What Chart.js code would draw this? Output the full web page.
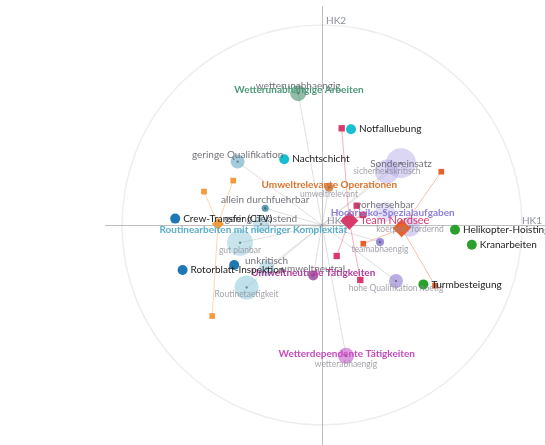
<!DOCTYPE html>
<html>
<head>
<meta charset="utf-8">
<script src="https://cdn.jsdelivr.net/npm/chart.js@4.4.0/dist/chart.umd.min.js"></script>
<style>
    html, body { margin: 0; padding: 0; background: #fff; }
    #wrap { width: 545px; height: 445px; }
</style>
</head>
<body>
<div id="wrap"><canvas id="chartBiplot"></canvas></div>
<script>
// Tätigkeiten (Zeilenpunkte)
const taetigkeiten = ['Notfalluebung', 'Nachtschicht', 'Crew-Transfer (CTV)', 'Rotorblatt-Inspektion',
    'Helikopter-Hoisting', 'Kranarbeiten', 'Turmbesteigung', ''];
const taetigkeitenX = [0.145, -0.189, -0.734, -0.697, 0.665, 0.749, 0.507, -0.439];
const taetigkeitenY = [0.479, 0.329, 0.032, -0.225, -0.024, -0.099, -0.297, -0.200];

// Merkmale (Spaltenpunkte) mit Beitrag
const merkmale = ['wetterunabhaengig', 'geringe Qualifikation', 'allein durchfuehrbar', 'gering belastend',
    'gut planbar', 'unkritisch', 'Routinetaetigkeit', 'umweltneutral', 'umweltrelevant', 'vorhersehbar',
    'Sondereinsatz', 'sicherheitskritisch', 'koerperl. fordernd', 'teamabhaengig',
    'hohe Qualifikation noetig', 'wetterabhaengig'];
const merkmaleX = [-0.119, -0.422, -0.284, -0.305, -0.410, -0.277, -0.377, -0.044, 0.035, 0.315,
    0.395, 0.324, 0.440, 0.290, 0.370, 0.120];
const merkmaleY = [0.659, 0.317, 0.084, 0.005, -0.089, -0.217, -0.312, -0.252, 0.189, 0.065,
    0.309, 0.267, -0.009, -0.085, -0.280, -0.654];
const merkmaleBeitrag = [8, 7, 3.5, 8, 13, 8, 12, 5, 4.5, 10, 15, 12, 10, 4, 7, 8];

// Cluster
const cluster = ['Wetterunabhängige Arbeiten', 'Umweltrelevante Operationen',
    'Routinearbeiten mit niedriger Komplexität', 'Hochrisiko-Spezialaufgaben',
    'Umweltneutrale Tätigkeiten', 'Wetterdependente Tätigkeiten'];
const clusterX = [-0.115, 0.0365, -0.3435, 0.3535, -0.0435, 0.124];
const clusterY = [0.675, 0.2035, -0.025, 0.0635, -0.2385, -0.6415];

// Teams (Schwerpunkte) und ihre Mitglieder
const teams = ['Team Nordsee', '', ''];
const teamsX = [0.1365, 0.3985, -0.52];
const teamsY = [0.0215, -0.0165, 0.005];
const mitgliederX = [
    [0.0985, 0.1735, 0.2035, 0.0735, 0.1915],
    [0.5965, 0.2065, 0.565],
    [-0.59, -0.444, -0.549]
];
const mitgliederY = [
    [0.4835, 0.0965, 0.05, -0.155, -0.275],
    [0.2665, -0.0935, -0.3035],
    [0.167, 0.222, -0.455]
];

const achsen = ['HK1', 'HK2', 'HK3'];

// Farben / Stile
const farbeTaetigkeit = ['#17becf', '#17becf', '#1f77b4', '#1f77b4', '#2ca02c', '#2ca02c', '#2ca02c', '#1f77b4'];
const farbeMerkmal = [
    'rgba(70,145,110,0.6)', 'rgba(90,160,190,0.55)', 'rgba(60,140,165,0.85)', 'rgba(130,195,215,0.45)',
    'rgba(130,195,215,0.45)', 'rgba(130,195,215,0.45)', 'rgba(130,195,215,0.5)', 'rgba(150,60,150,0.8)',
    'rgba(205,110,50,0.8)', 'rgba(175,165,230,0.35)', 'rgba(175,165,230,0.45)', 'rgba(175,165,230,0.45)',
    'rgba(175,165,230,0.5)', 'rgba(130,110,210,0.8)', 'rgba(140,120,210,0.6)', 'rgba(205,100,205,0.65)'
];
const merkmalGross = [true, true, true, true, false, true, false, true, false, true, true, false, false, false, false, false];
const merkmalDy = [-7, -7, -8, -5, 7, -8, 7, -7, 7, -7, 1, 0, 2, 7, 7, 8];
const farbeCluster = ['#4e9a78', '#d9742c', '#5aaec8', '#8c80d8', '#b0409e', '#c44cbc'];
const farbeTeam = ['#d93a6c', '#e8602c', '#f39a3c'];

const SCHRIFT = 'Lato, "Open Sans", sans-serif';

const datasets = [];

// Vektoren vom Ursprung zu den Merkmalen
merkmale.forEach((m, i) => {
    datasets.push({
        type: 'line',
        data: [{ x: 0, y: 0 }, { x: merkmaleX[i], y: merkmaleY[i] }],
        borderColor: 'rgba(150,150,150,0.3)',
        borderWidth: 1,
        pointRadius: 0,
        order: 20,
        clip: false
    });
});

// Verbindungen Team -> Mitglieder
teams.forEach((t, g) => {
    mitgliederX[g].forEach((mx, k) => {
        datasets.push({
            type: 'line',
            data: [{ x: teamsX[g], y: teamsY[g] }, { x: mx, y: mitgliederY[g][k] }],
            borderColor: farbeTeam[g] + '66',
            borderWidth: 1,
            pointRadius: 0,
            order: 19,
            clip: false
        });
    });
});

// Merkmal-Blasen
datasets.push({
    type: 'bubble',
    data: merkmale.map((m, i) => ({ x: merkmaleX[i], y: merkmaleY[i], r: merkmaleBeitrag[i] })),
    backgroundColor: farbeMerkmal,
    borderWidth: 0,
    order: 10,
    clip: false
});
datasets.push({
    type: 'scatter',
    data: merkmale.map((m, i) => ({ x: merkmaleX[i], y: merkmaleY[i] })),
    backgroundColor: 'rgba(70,70,90,0.55)',
    borderWidth: 0,
    pointRadius: 1.2,
    order: 9,
    clip: false
});

// Mitglieder (Quadrate)
teams.forEach((t, g) => {
    datasets.push({
        type: 'scatter',
        data: mitgliederX[g].map((mx, k) => ({ x: mx, y: mitgliederY[g][k] })),
        pointStyle: 'rect',
        pointRadius: g === 0 ? 4.5 : 4,
        backgroundColor: farbeTeam[g],
        borderWidth: 0,
        order: 5,
        clip: false
    });
});

// Teams (Rauten)
datasets.push({
    type: 'scatter',
    data: teams.map((t, g) => ({ x: teamsX[g], y: teamsY[g] })),
    pointStyle: 'rectRot',
    pointRadius: [9, 9, 6],
    backgroundColor: farbeTeam,
    borderWidth: 0,
    order: 3,
    clip: false
});

// Tätigkeiten
datasets.push({
    type: 'scatter',
    data: taetigkeiten.map((t, i) => ({ x: taetigkeitenX[i], y: taetigkeitenY[i] })),
    pointRadius: 5,
    backgroundColor: farbeTaetigkeit,
    borderWidth: 0,
    order: 1,
    clip: false
});

// Gitter: Kreis und Achsen
const gitterPlugin = {
    id: 'gitter',
    beforeDatasetsDraw(chart) {
        const { ctx, scales: { x, y } } = chart;
        const cx = x.getPixelForValue(0), cy = y.getPixelForValue(0);
        const rad = x.getPixelForValue(1) - cx;
        ctx.save();
        ctx.strokeStyle = 'rgba(0,0,0,0.07)';
        ctx.lineWidth = 1.5;
        ctx.beginPath();
        ctx.arc(cx, cy, rad, 0, Math.PI * 2);
        ctx.stroke();
        ctx.strokeStyle = 'rgba(0,0,0,0.25)';
        ctx.lineWidth = 1;
        ctx.beginPath();
        ctx.moveTo(x.getPixelForValue(-1.085), cy + 0.5);
        ctx.lineTo(x.getPixelForValue(1.115), cy + 0.5);
        ctx.moveTo(cx + 0.5, y.getPixelForValue(1.095));
        ctx.lineTo(cx + 0.5, y.getPixelForValue(-1.1));
        ctx.stroke();
        ctx.fillStyle = '#8a8f98';
        ctx.font = '10px ' + SCHRIFT;
        ctx.textBaseline = 'middle';
        ctx.textAlign = 'right';
        ctx.fillText(achsen[0], x.getPixelForValue(1.1), cy - 4);
        ctx.textAlign = 'left';
        ctx.fillText(achsen[1], cx + 4, y.getPixelForValue(1.02));
        ctx.fillText(achsen[2], cx + 5, cy - 4);
        ctx.restore();
    }
};

// Beschriftungen
const labelPlugin = {
    id: 'beschriftung',
    afterDatasetsDraw(chart) {
        const { ctx, scales: { x, y } } = chart;
        ctx.save();
        ctx.textBaseline = 'middle';

        // Merkmale
        ctx.textAlign = 'center';
        merkmale.forEach((m, i) => {
            const px = x.getPixelForValue(merkmaleX[i]);
            const py = y.getPixelForValue(merkmaleY[i]) + merkmalDy[i];
            if (merkmalGross[i]) {
                ctx.font = '10px ' + SCHRIFT;
                ctx.fillStyle = 'rgba(90,90,100,0.85)';
            } else {
                ctx.font = '8.5px ' + SCHRIFT;
                ctx.fillStyle = 'rgba(140,140,150,0.8)';
            }
            ctx.fillText(m, px, py);
        });

        // Cluster
        ctx.font = 'bold 10px ' + SCHRIFT;
        cluster.forEach((c, i) => {
            ctx.fillStyle = farbeCluster[i];
            ctx.fillText(c, x.getPixelForValue(clusterX[i]), y.getPixelForValue(clusterY[i]));
        });

        // Teams
        ctx.textAlign = 'left';
        ctx.font = '11px ' + SCHRIFT;
        teams.forEach((t, g) => {
            if (!t) return;
            ctx.fillStyle = farbeTeam[g];
            ctx.fillText(t, x.getPixelForValue(teamsX[g]) + 11, y.getPixelForValue(teamsY[g]));
        });

        // Tätigkeiten
        ctx.font = '10px ' + SCHRIFT;
        ctx.fillStyle = '#222';
        taetigkeiten.forEach((t, i) => {
            if (!t) return;
            ctx.fillText(t, x.getPixelForValue(taetigkeitenX[i]) + 8, y.getPixelForValue(taetigkeitenY[i]));
        });
        ctx.restore();
    }
};

// Feste Innenabstände (größer als der Überhang der Blasen), Bereich so gewählt,
// dass der Ursprung bei (322, 225) liegt und 1 Einheit = 200 px
new Chart(document.getElementById('chartBiplot'), {
    type: 'scatter',
    data: { datasets: datasets },
    options: {
        responsive: true,
        maintainAspectRatio: false,
        animation: false,
        layout: { padding: 20 },
        plugins: {
            legend: { display: false },
            tooltip: { enabled: false }
        },
        scales: {
            x: { type: 'linear', min: -1.51, max: 1.015, display: false },
            y: { type: 'linear', min: -1.0, max: 1.025, display: false }
        }
    },
    plugins: [gitterPlugin, labelPlugin]
});
</script>
</body>
</html>
